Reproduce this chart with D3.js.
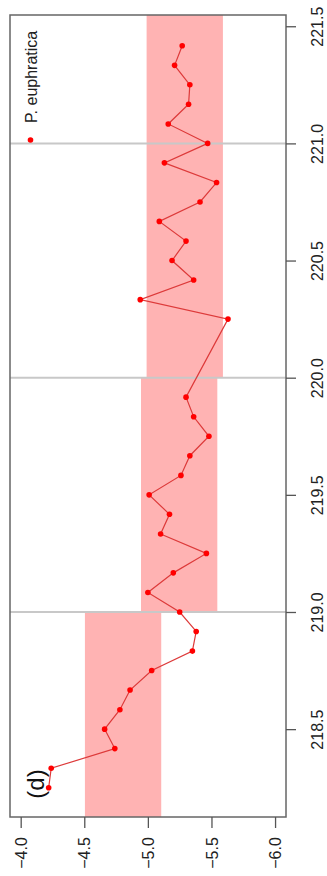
<!DOCTYPE html>
<html>
<head>
<meta charset="utf-8">
<script src="https://cdn.jsdelivr.net/npm/d3@7"></script>
<style>
  html, body { margin: 0; padding: 0; background: #fff; }
  svg { display: block; font-family: "Liberation Sans", Arial, sans-serif; }
</style>
</head>
<body>
<svg id="chart" width="327" height="876"></svg>
<script>
// Sample ages (ka) and δ values, top to bottom
const ages = [
  221.417, 221.333, 221.250, 221.167, 221.083, 221.000, 220.917, 220.833,
  220.750, 220.667, 220.583, 220.500, 220.417, 220.333, 220.250,
  219.917, 219.833, 219.750, 219.667, 219.583, 219.500, 219.417, 219.333,
  219.250, 219.167, 219.083, 219.000,
  218.917, 218.833, 218.750, 218.667, 218.583, 218.500, 218.417, 218.333, 218.250
];
const values = [
  -5.27, -5.21, -5.33, -5.32, -5.16, -5.47, -5.13, -5.54,
  -5.41, -5.09, -5.30, -5.19, -5.36, -4.94, -5.63,
  -5.30, -5.36, -5.48, -5.33, -5.26, -5.01, -5.17, -5.10,
  -5.46, -5.20, -5.00, -5.25,
  -5.38, -5.35, -5.03, -4.86, -4.78, -4.66, -4.74, -4.24, -4.22
];

// Shaded ranges per period: age span and value range
const bandFrom = [220.0, 219.0, 217.0];
const bandTo   = [223.0, 220.0, 219.0];
const bandLow  = [-4.99, -4.946, -4.505];
const bandHigh = [-5.59, -5.546, -5.105];

// Period boundaries
const dividers = [219.0, 220.0, 221.0];

const valueTicks = [-4.0, -4.5, -5.0, -5.5, -6.0];
const ageTicks = [218.5, 219.0, 219.5, 220.0, 220.5, 221.0, 221.5];

const legendLabel = "P. euphratica";
const panelLabel = "(d)";

const box = { left: 10, right: 286, top: 15, bottom: 817 };

const x = d3.scaleLinear().domain([-3.916, -6.086]).range([box.left, box.right]);
const y = d3.scaleLinear().domain([218.125, 221.548]).range([box.bottom, box.top]);

const svg = d3.select("#chart");

svg.append("clipPath").attr("id", "plot-clip")
  .append("rect")
  .attr("x", box.left).attr("y", box.top)
  .attr("width", box.right - box.left).attr("height", box.bottom - box.top);

const plot = svg.append("g").attr("clip-path", "url(#plot-clip)");

// Shaded bands
plot.selectAll("rect.band")
  .data(bandFrom.map((f, i) => ({ from: f, to: bandTo[i], lo: bandLow[i], hi: bandHigh[i] })))
  .join("rect")
  .attr("class", "band")
  .attr("x", d => x(d.lo))
  .attr("width", d => x(d.hi) - x(d.lo))
  .attr("y", d => y(d.to))
  .attr("height", d => y(d.from) - y(d.to))
  .attr("fill", "#ffb3b3");

// Period divider lines
plot.selectAll("line.divider")
  .data(dividers)
  .join("line")
  .attr("class", "divider")
  .attr("x1", box.left).attr("x2", box.right)
  .attr("y1", d => y(d)).attr("y2", d => y(d))
  .attr("stroke", "#c8c8c8")
  .attr("stroke-width", 2);

// Series line and points
const pts = ages.map((a, i) => ({ age: a, v: values[i] }));
plot.append("path")
  .datum(pts)
  .attr("fill", "none")
  .attr("stroke", "#dd3a3a")
  .attr("stroke-width", 1.2)
  .attr("d", d3.line().x(d => x(d.v)).y(d => y(d.age)));

plot.selectAll("circle.pt")
  .data(pts)
  .join("circle")
  .attr("class", "pt")
  .attr("cx", d => x(d.v))
  .attr("cy", d => y(d.age))
  .attr("r", 2.8)
  .attr("fill", "#ff0000");

// Frame
svg.append("rect")
  .attr("x", box.left).attr("y", box.top)
  .attr("width", box.right - box.left).attr("height", box.bottom - box.top)
  .attr("fill", "none")
  .attr("stroke", "#666")
  .attr("stroke-width", 1.5);

// Value axis (bottom)
const xAxis = svg.append("g")
  .attr("transform", `translate(0,${box.bottom})`)
  .call(d3.axisBottom(x).tickValues(valueTicks).tickSize(11).tickFormat(d3.format(".1f")));
xAxis.select(".domain").remove();
xAxis.selectAll(".tick line").attr("stroke", "#555").attr("stroke-width", 1.3);
xAxis.selectAll(".tick text")
  .attr("x", 0).attr("y", 0).attr("dy", "0.35em")
  .attr("text-anchor", "middle")
  .attr("transform", "translate(0,36) rotate(-90)")
  .attr("font-size", 16)
  .attr("font-family", "Liberation Sans, Arial, sans-serif")
  .attr("fill", "#222");

// Age axis (right)
const yAxis = svg.append("g")
  .attr("transform", `translate(${box.right},0)`)
  .call(d3.axisRight(y).tickValues(ageTicks).tickSize(10).tickFormat(d3.format(".1f")));
yAxis.select(".domain").remove();
yAxis.selectAll(".tick line").attr("stroke", "#555").attr("stroke-width", 1.3);
yAxis.selectAll(".tick text")
  .attr("x", 0).attr("y", 0).attr("dy", "0.35em")
  .attr("text-anchor", "middle")
  .attr("transform", "translate(31,0) rotate(-90)")
  .attr("font-size", 16)
  .attr("font-family", "Liberation Sans, Arial, sans-serif")
  .attr("fill", "#222");

// Legend
svg.append("circle")
  .attr("cx", 30.5).attr("cy", 140)
  .attr("r", 2.8)
  .attr("fill", "#ff0000");
svg.append("text")
  .attr("transform", "translate(31,123) rotate(-90)")
  .attr("dy", "0.35em")
  .attr("font-size", 16)
  .attr("fill", "#222")
  .text(legendLabel);

// Panel label
svg.append("text")
  .attr("transform", "translate(36,784) rotate(-90)")
  .attr("text-anchor", "middle")
  .attr("dy", "0.35em")
  .attr("font-size", 24)
  .attr("fill", "#111")
  .text(panelLabel);
</script>
</body>
</html>
